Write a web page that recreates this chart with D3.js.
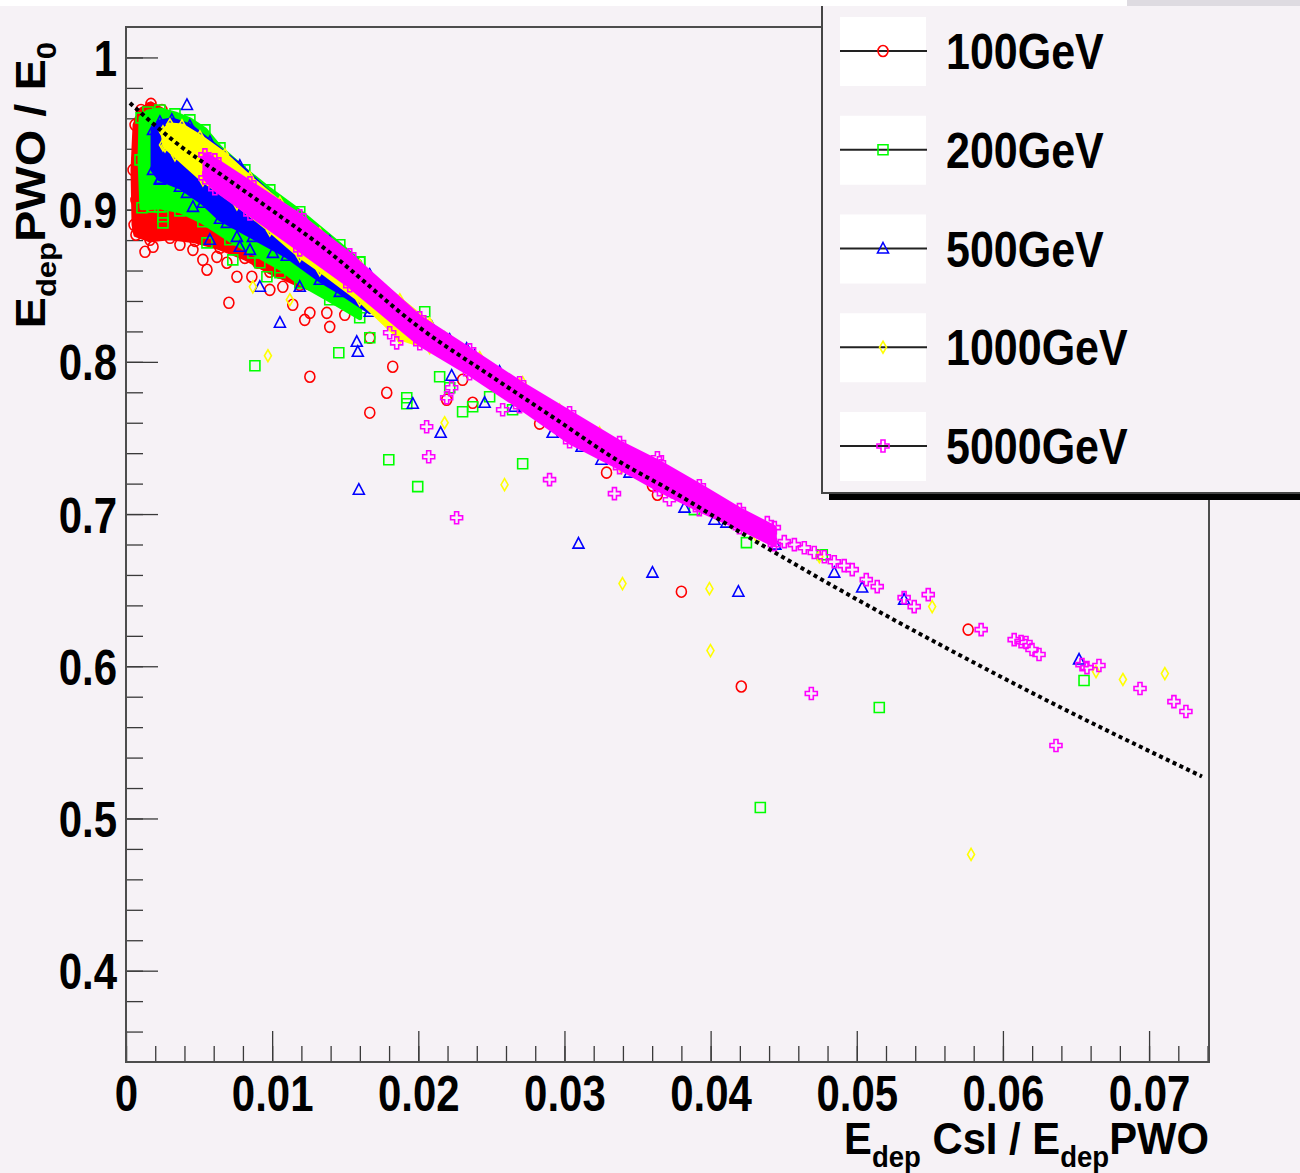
<!DOCTYPE html>
<html>
<head>
<meta charset="utf-8">
<script src="https://cdn.jsdelivr.net/npm/d3@7"></script>
<style>
  html, body { margin: 0; padding: 0; background: #f6f2f6; }
  svg { display: block; }
  text { font-family: "Liberation Sans", Arial, Helvetica, sans-serif; font-weight: bold; fill: #000; }
</style>
</head>
<body>
<svg id="chart"></svg>
<script>
// axis ticks
const xTicks = [0, 0.01, 0.02, 0.03, 0.04, 0.05, 0.06, 0.07];
const yTicks = [0.4, 0.5, 0.6, 0.7, 0.8, 0.9, 1];

// series
const seriesNames = ['100GeV', '200GeV', '500GeV', '1000GeV', '5000GeV'];
const seriesColors = ['#ff0000', '#00ff00', '#0000ff', '#ffff00', '#ff00ff'];
const seriesMarkers = ['circle', 'square', 'triangle', 'diamond', 'cross'];

// dense cores (outline of the solid-looking clouds), [x, y]
const core100 = [[0.00055,0.8900],[0.00048,0.9261],[0.00062,0.9557],[0.00103,0.9655],[0.00171,0.9695],[0.00246,0.9655],
  [0.00369,0.9537],[0.00574,0.9393],[0.00848,0.9182],[0.01189,0.8920],[0.01463,0.8703],[0.01668,0.8539],
  [0.01599,0.8408],[0.01394,0.8440],[0.01189,0.8506],[0.00984,0.8592],[0.00813,0.8683],[0.00643,0.8749],
  [0.00472,0.8795],[0.00301,0.8815],[0.00164,0.8802],[0.00068,0.8835]];
const core200 = [[0.00103,0.9603],[0.00150,0.9642],[0.00232,0.9655],[0.00335,0.9629],[0.00437,0.9590],[0.00540,0.9524],
  [0.00643,0.9406],[0.00813,0.9261],[0.00984,0.9130],[0.01189,0.8986],[0.01463,0.8769],[0.01599,0.8657],
  [0.01599,0.8290],[0.01394,0.8408],[0.01189,0.8519],[0.01053,0.8618],[0.00868,0.8716],[0.00711,0.8802],
  [0.00526,0.8920],[0.00369,0.8992],[0.00232,0.9018],[0.00109,0.9012],[0.00096,0.9327]];
const core500 = [[0.00185,0.9524],[0.00232,0.9576],[0.00314,0.9590],[0.00437,0.9550],[0.00574,0.9445],[0.00779,0.9288],
  [0.01053,0.9038],[0.01394,0.8789],[0.01668,0.8572],[0.01668,0.8329],[0.01463,0.8460],[0.01326,0.8539],
  [0.01100,0.8697],[0.00868,0.8821],[0.00643,0.8940],[0.00526,0.9045],[0.00369,0.9150],[0.00232,0.9202],
  [0.00185,0.9261]];
const core1000 = [[0.00253,0.9511],[0.00301,0.9557],[0.00383,0.9550],[0.00506,0.9478],[0.00677,0.9360],[0.00848,0.9209],
  [0.01053,0.9045],[0.01326,0.8841],[0.01599,0.8631],[0.01873,0.8408],[0.02078,0.8250],[0.02078,0.8093],
  [0.01873,0.8158],[0.01599,0.8408],[0.01326,0.8605],[0.01189,0.8697],[0.00984,0.8867],[0.00759,0.9038],
  [0.00526,0.9196],[0.00335,0.9360],[0.00267,0.9419]];
const core5000 = [[0.00540,0.9360],[0.00608,0.9327],[0.00848,0.9176],[0.01189,0.8959],[0.01531,0.8703],[0.02010,0.8290],
  [0.02351,0.8079],[0.02693,0.7863],[0.03035,0.7666],[0.03377,0.7469],[0.03650,0.7337],[0.03923,0.7186],
  [0.04197,0.7029],[0.04436,0.6911],[0.04436,0.6799],[0.04197,0.6911],[0.03923,0.7029],[0.03650,0.7160],
  [0.03377,0.7305],[0.03035,0.7475],[0.02693,0.7705],[0.02351,0.7922],[0.02010,0.8119],[0.01531,0.8500],
  [0.01189,0.8736],[0.00848,0.8972],[0.00608,0.9137],[0.00540,0.9209]];

// separate markers, [x, y]
const pts100 = [[0.00164,0.9668],[0.00096,0.9590],[0.00075,0.9327],[0.00068,0.9064],[0.00082,0.8867],
  [0.00130,0.8723],[0.00185,0.8756],[0.00369,0.8769],[0.00458,0.8736],[0.00526,0.8670],[0.00554,0.8605],
  [0.00622,0.8690],[0.00690,0.8651],[0.00759,0.8559],[0.00704,0.8388],[0.00861,0.8559],[0.00902,0.8651],
  [0.00984,0.8473],[0.01053,0.8585],[0.01073,0.8493],[0.01141,0.8375],[0.01223,0.8276],[0.01258,0.8322],
  [0.01374,0.8322],[0.01394,0.8230],[0.01497,0.8309],[0.01258,0.7902],[0.01668,0.8158],[0.01825,0.7968],
  [0.01784,0.7797],[0.01668,0.7666],[0.02194,0.7751],[0.02303,0.7882],[0.02372,0.7731],[0.02830,0.7594],
  [0.03288,0.7272],[0.03602,0.7186],[0.03636,0.7127],[0.04128,0.7029],[0.03800,0.6490],[0.04210,0.5867],
  [0.05762,0.6241]];
const pts200 = [[0.00185,0.9018],[0.00253,0.8953],[0.00253,0.8913],[0.00554,0.8782],[0.00711,0.8867],[0.00731,0.8670],
  [0.00916,0.8651],[0.00964,0.8559],[0.01053,0.8585],[0.00486,0.9524],[0.00622,0.9373],[0.00779,0.9248],
  [0.01032,0.9012],[0.01381,0.8749],[0.01599,0.8657],[0.02044,0.8329],[0.00882,0.7974],[0.01456,0.8060],
  [0.01668,0.8158],[0.01921,0.7764],[0.01921,0.7725],[0.01798,0.7357],[0.01996,0.7180],[0.02146,0.7902],
  [0.02215,0.7830],[0.02303,0.7672],[0.02372,0.7705],[0.02488,0.7771],[0.02645,0.7685],[0.02714,0.7331],
  [0.03889,0.7029],[0.04245,0.6812],[0.04764,0.6733],[0.06555,0.5906],[0.05154,0.5729],[0.04340,0.5072],
  [0.01497,0.8618],[0.01613,0.8526],[0.01722,0.8434],[0.01839,0.8355],[0.01955,0.8263],[0.02078,0.8191]];
const pts500 = [[0.00417,0.9688],[0.00232,0.9196],[0.00417,0.9110],[0.00458,0.9018],[0.00574,0.8802],[0.00690,0.8913],
  [0.00759,0.8821],[0.00779,0.8756],[0.00848,0.8736],[0.01005,0.8716],[0.01189,0.8690],[0.01189,0.8493],
  [0.00916,0.8493],[0.01053,0.8257],[0.01579,0.8132],[0.01586,0.8066],[0.01962,0.7725],[0.02153,0.7534],
  [0.01593,0.7160],[0.02092,0.8230],[0.02228,0.7909],[0.02331,0.8086],[0.02454,0.7731],[0.02659,0.7705],
  [0.02919,0.7534],[0.03117,0.7442],[0.03253,0.7357],[0.03445,0.7272],[0.03821,0.7042],[0.04026,0.6963],
  [0.04108,0.6944],[0.04443,0.6799],[0.03096,0.6806],[0.03602,0.6615],[0.04190,0.6490],[0.04846,0.6615],
  [0.05037,0.6517],[0.05324,0.6438],[0.06521,0.6044],
  [0.01545,0.8631],[0.01668,0.8526],[0.01791,0.8421],[0.01907,0.8342],[0.02044,0.8244],[0.02215,0.8145],
  [0.02385,0.8040],[0.02556,0.7935]];
const pts1000 = [[0.00253,0.9425],[0.00868,0.8493],[0.01121,0.8408],[0.00971,0.8040],[0.02180,0.7600],[0.02714,0.7863],
  [0.02590,0.7193],[0.03390,0.7305],[0.03397,0.6543],[0.03992,0.6510],[0.03999,0.6103],[0.04183,0.7016],
  [0.04320,0.6845],[0.04744,0.6720],[0.05516,0.6392],[0.06637,0.5965],[0.06821,0.5913],[0.07108,0.5952],
  [0.05782,0.4764],
  [0.01681,0.8473],[0.01818,0.8388],[0.01975,0.8290],[0.02180,0.8158],[0.02420,0.8027],[0.02693,0.7850],
  [0.02966,0.7685],[0.03240,0.7534]];
const pts5000 = [[0.00554,0.9327],[0.01189,0.8933],[0.01223,0.8900],[0.01804,0.8191],[0.01852,0.8125],[0.02057,0.7574],
  [0.02071,0.7377],[0.02194,0.7764],[0.02228,0.7830],[0.02262,0.6976],[0.02577,0.7685],[0.02898,0.7226],
  [0.03342,0.7134],[0.03636,0.7370],[0.03718,0.7094],[0.04388,0.6944],[0.04504,0.6819],[0.04573,0.6799],
  [0.04641,0.6779],[0.04709,0.6747],[0.04778,0.6720],[0.04846,0.6687],[0.04914,0.6661],[0.04969,0.6635],
  [0.05065,0.6569],[0.05140,0.6523],[0.05324,0.6451],[0.05393,0.6392],[0.05489,0.6471],[0.05851,0.6241],
  [0.06077,0.6175],[0.06124,0.6162],[0.06158,0.6156],[0.06199,0.6110],[0.06247,0.6077],[0.06541,0.6011],
  [0.06575,0.5991],[0.06657,0.6005],[0.06938,0.5854],[0.07170,0.5768],[0.07252,0.5703],[0.06363,0.5479],
  [0.04689,0.5821]];

// fitted curve
const fitCurve = [[0.00027,0.9701],[0.00164,0.9583],[0.00335,0.9445],[0.00643,0.9235],[0.00984,0.9005],[0.01326,0.8769],
  [0.02010,0.8224],[0.02536,0.7882],[0.02967,0.7607],[0.03377,0.7344],[0.03718,0.7160],[0.04265,0.6845],
  [0.05065,0.6405],[0.05632,0.6110],[0.06316,0.5768],[0.07362,0.5276]];

const cores = [core100, core200, core500, core1000, core5000];
const points = [pts100, pts200, pts500, pts1000, pts5000];

const W = 1300, H = 1173;
const bg = '#f6f2f6';
const margin = { left: 126, right: 91, top: 27, bottom: 111 };

const svg = d3.select('#chart').attr('width', W).attr('height', H);
svg.append('rect').attr('width', W).attr('height', H).attr('fill', bg);

const x = d3.scaleLinear().domain([0, 0.0741]).range([margin.left, W - margin.right]);
const y = d3.scaleLinear().domain([0.34, 1.02]).range([H - margin.bottom, margin.top]);

const markerPaths = {
    circle: 'M5,0 A5,5.5 0 1,1 -5,0 A5,5.5 0 1,1 5,0 Z',
    square: 'M-5,-5 H5 V5 H-5 Z',
    triangle: 'M0,-6 L5.5,4.5 L-5.5,4.5 Z',
    diamond: 'M0,-6 L3.5,0 L0,6 L-3.5,0 Z',
    cross: 'M-2,-6 H2 V-2 H6 V2 H2 V6 H-2 V2 H-6 V-2 H-2 Z'
};

// ticks
const xMinor = d3.range(0, 0.0741, 0.002);
const yMinor = d3.range(0.36, 1.01, 0.02);

svg.append('g')
    .attr('transform', `translate(0,${y(0.34)})`)
    .call(d3.axisBottom(x).tickValues(xMinor).tickSize(-16).tickSizeOuter(0).tickFormat(''));
svg.append('g')
    .attr('transform', `translate(${x(0)},0)`)
    .call(d3.axisLeft(y).tickValues(yMinor).tickSize(-17).tickSizeOuter(0).tickFormat(''));

let xAxisG = svg.append('g')
    .attr('transform', `translate(0,${y(0.34)})`)
    .call(d3.axisBottom(x).tickValues(xTicks).tickSize(-31).tickSizeOuter(0).tickFormat(d => String(d)));
xAxisG.selectAll('text')
    .attr('y', 49).attr('dy', 0)
    .attr('transform', 'scale(0.84,1)')
    .style('font-size', '50px');

let yAxisG = svg.append('g')
    .attr('transform', `translate(${x(0)},0)`)
    .call(d3.axisLeft(y).tickValues(yTicks).tickSize(-32).tickSizeOuter(0).tickFormat(d => String(d)));
yAxisG.selectAll('text')
    .attr('x', -9 / 0.84).attr('dy', '0.36em')
    .attr('transform', 'scale(0.84,1)')
    .style('font-size', '50px');

svg.selectAll('.domain').remove();
svg.selectAll('.tick line').attr('stroke', '#3a3a3a').attr('stroke-width', 1.3);

// frame
svg.append('rect')
    .attr('x', x(0)).attr('y', y(1.02))
    .attr('width', x(0.0741) - x(0)).attr('height', y(0.34) - y(1.02))
    .attr('fill', 'none').attr('stroke', '#4d4d4d').attr('stroke-width', 2);

// data
const area = d3.line().x(d => x(d[0])).y(d => y(d[1])).curve(d3.curveLinearClosed);

seriesNames.forEach((name, i) => {
    let g = svg.append('g');
    g.append('path')
        .attr('d', area(cores[i]))
        .attr('fill', seriesColors[i])
        .attr('stroke', seriesColors[i])
        .attr('stroke-width', 5)
        .attr('stroke-linejoin', 'round');
    g.selectAll('path.edge')
        .data(cores[i])
        .join('path')
        .attr('class', 'edge')
        .attr('d', markerPaths[seriesMarkers[i]])
        .attr('transform', d => `translate(${x(d[0])},${y(d[1])})`)
        .attr('fill', 'none')
        .attr('stroke', seriesColors[i])
        .attr('stroke-width', 1.6);
    g.selectAll('path.pt')
        .data(points[i])
        .join('path')
        .attr('class', 'pt')
        .attr('d', markerPaths[seriesMarkers[i]])
        .attr('transform', d => `translate(${x(d[0])},${y(d[1])})`)
        .attr('fill', 'none')
        .attr('stroke', seriesColors[i])
        .attr('stroke-width', 1.6);
});

let lineGen = d3.line().x(d => x(d[0])).y(d => y(d[1])).curve(d3.curveMonotoneX);
svg.append('path')
    .attr('d', lineGen(fitCurve))
    .attr('fill', 'none')
    .attr('stroke', '#000')
    .attr('stroke-width', 4)
    .attr('stroke-dasharray', '4,3.5');

// axis titles
let xTitle = svg.append('text')
    .attr('transform', `translate(${x(0.0741)},1154) scale(0.95,1)`)
    .attr('text-anchor', 'end')
    .style('font-size', '44px');
xTitle.append('tspan').text('E');
xTitle.append('tspan').attr('dy', 13).style('font-size', '29px').text('dep');
xTitle.append('tspan').attr('dy', -13).text(' CsI / E');
xTitle.append('tspan').attr('dy', 13).style('font-size', '29px').text('dep');
xTitle.append('tspan').attr('dy', -13).text('PWO');

let yTitle = svg.append('text')
    .attr('transform', 'translate(45,42) rotate(-90) scale(1,0.9)')
    .attr('text-anchor', 'end')
    .style('font-size', '47px');
yTitle.append('tspan').text('E');
yTitle.append('tspan').attr('dy', 12).style('font-size', '31px').text('dep');
yTitle.append('tspan').attr('dy', -12).text('PWO / E');
yTitle.append('tspan').attr('dy', 12).style('font-size', '31px').text('0');

// legend
let legend = svg.append('g');
legend.append('rect').attr('x', 829).attr('y', 493).attr('width', 480).attr('height', 7).attr('fill', '#000');
legend.append('rect')
    .attr('x', 822).attr('y', 4).attr('width', 500).attr('height', 489)
    .attr('fill', bg).attr('stroke', '#454545').attr('stroke-width', 2);

let entry = legend.selectAll('g.entry')
    .data(seriesNames)
    .join('g')
    .attr('class', 'entry')
    .attr('transform', (d, i) => `translate(0,${51 + i * 98.75})`);
entry.append('rect').attr('x', 840).attr('y', -34).attr('width', 86).attr('height', 69).attr('fill', '#fff');
entry.append('line').attr('x1', 840).attr('x2', 927).attr('stroke', '#222').attr('stroke-width', 2);
entry.append('path')
    .attr('d', (d, i) => markerPaths[seriesMarkers[i]])
    .attr('transform', 'translate(883,0)')
    .attr('fill', 'none')
    .attr('stroke', (d, i) => seriesColors[i])
    .attr('stroke-width', 1.6);
entry.append('text')
    .attr('transform', 'translate(946,18) scale(0.86,1)')
    .style('font-size', '50px')
    .text(d => d);

// strip at the top of the picture
svg.append('rect').attr('width', W).attr('height', 6).attr('fill', '#fff');
svg.append('rect').attr('x', 1127).attr('width', W - 1127).attr('height', 6).attr('fill', '#dedbe1');
</script>
</body>
</html>
